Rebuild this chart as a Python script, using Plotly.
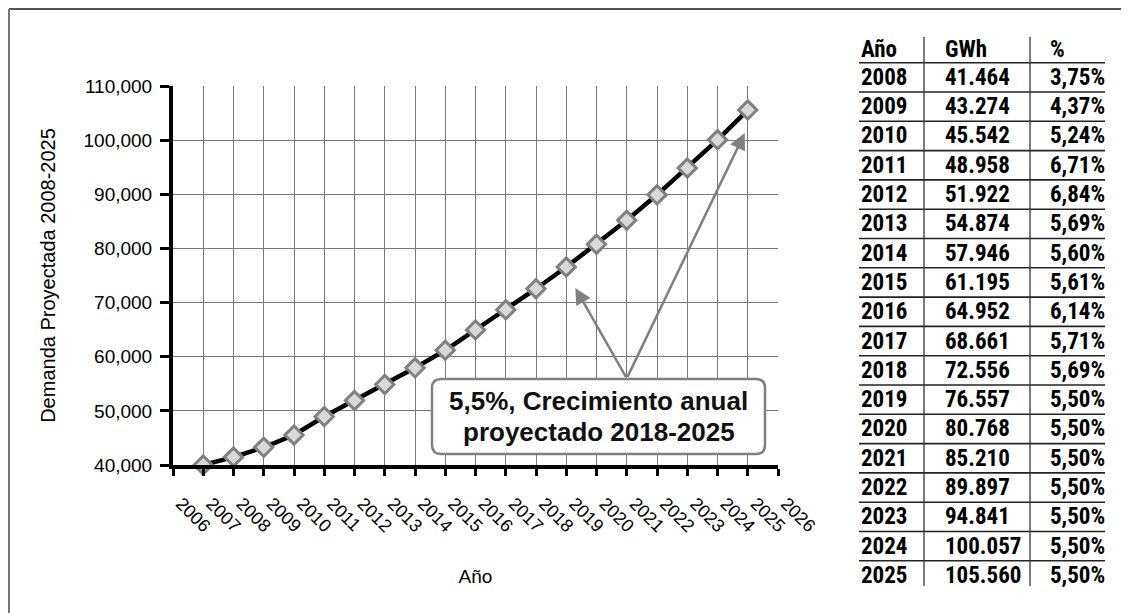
import plotly.graph_objects as go

# ---------------- data ----------------
years = [2007, 2008, 2009, 2010, 2011, 2012, 2013, 2014, 2015, 2016,
         2017, 2018, 2019, 2020, 2021, 2022, 2023, 2024, 2025]
demand = [40000, 41464, 43274, 45542, 48958, 51922, 54874, 57946, 61195, 64952,
          68661, 72556, 76557, 80768, 85210, 89897, 94841, 100057, 105560]

table_years = [2008, 2009, 2010, 2011, 2012, 2013, 2014, 2015, 2016,
               2017, 2018, 2019, 2020, 2021, 2022, 2023, 2024, 2025]
table_gwh = [41464, 43274, 45542, 48958, 51922, 54874, 57946, 61195, 64952,
             68661, 72556, 76557, 80768, 85210, 89897, 94841, 100057, 105560]
table_pct = [3.75, 4.37, 5.24, 6.71, 6.84, 5.69, 5.60, 5.61, 6.14,
             5.71, 5.69, 5.50, 5.50, 5.50, 5.50, 5.50, 5.50, 5.50]
table_header = ["Año", "GWh", "%"]

x_ticks = list(range(2006, 2027))
y_ticks = [40000, 50000, 60000, 70000, 80000, 90000, 100000, 110000]

note_lines = ["5,5%, Crecimiento anual", "proyectado 2018-2025"]
note_tail = (2021.0, 56000)
note_heads = [(2019.3, 72700), (2024.9, 101300)]

# ---------------- layout geometry ----------------
# page body has an 8px margin; screen coordinates are converted to figure ones
OFF = 8
W, H = 1129 - OFF, 613 - OFF
ML, MR, MT, MB = 173 - OFF, 351, 86 - OFF, 148
PW = W - ML - MR
PH = H - MT - MB


def px(x):
    """screen x -> paper"""
    return (x - OFF - ML) / PW


def py(y):
    """screen y -> paper"""
    return (H - MB - (y - OFF)) / PH


fig = go.Figure()
fig.add_trace(go.Scatter(
    x=years, y=demand, mode="lines+markers",
    line=dict(color="black", width=4.5),
    marker=dict(symbol="diamond", size=14, color="#d9d9d9",
                line=dict(color="#808080", width=3)),
    showlegend=False, cliponaxis=False,
))

shapes = []
annotations = []

# rounded box for the note
bx0, bx1, by0, by1, r = 432, 765, 379, 454, 9
rx, ry = r / PW, r / PH
X0, X1, Y0, Y1 = px(bx0), px(bx1), py(by1), py(by0)
path = (f"M {X0+rx},{Y1} L {X1-rx},{Y1} Q {X1},{Y1} {X1},{Y1-ry} "
        f"L {X1},{Y0+ry} Q {X1},{Y0} {X1-rx},{Y0} L {X0+rx},{Y0} "
        f"Q {X0},{Y0} {X0},{Y0+ry} L {X0},{Y1-ry} Q {X0},{Y1} {X0+rx},{Y1} Z")
shapes.append(dict(type="path", xref="paper", yref="paper", path=path,
                   fillcolor="white", line=dict(color="#808080", width=2.5),
                   layer="above"))
for ly, txt in zip((400.5, 431.5), note_lines):
    annotations.append(dict(xref="paper", yref="paper", x=px((bx0 + bx1) / 2),
                            y=py(ly), xanchor="center", yanchor="middle",
                            text=f"<b>{txt}</b>", borderpad=0,
                            showarrow=False, align="center",
                            font=dict(family="Arial, Liberation Sans, sans-serif",
                                      size=26, color="#111111")))
for hx, hy in note_heads:
    annotations.append(dict(x=hx, y=hy, xref="x", yref="y",
                            ax=note_tail[0], ay=note_tail[1], axref="x", ayref="y",
                            text="", showarrow=True, arrowhead=2, arrowsize=1.3,
                            arrowwidth=2.5, arrowcolor="#808080", standoff=0))

# outer frame (top and left)
shapes.append(dict(type="line", xref="paper", yref="paper",
                   x0=px(OFF + 1), x1=px(1129), y0=py(OFF + 1), y1=py(OFF + 1),
                   line=dict(color="#555555", width=2)))
shapes.append(dict(type="line", xref="paper", yref="paper",
                   x0=px(OFF + 1), x1=px(OFF + 1), y0=py(OFF + 1), y1=py(613),
                   line=dict(color="#777777", width=2)))

# table
tfont = dict(family="Roboto Condensed, Liberation Sans Narrow, Noto Sans",
             size=23, color="black", weight="bold")
col_x = [859, 943, 1048]
t_left, t_right = 859, 1105
line0, row_h = 62.7, 29.3
hdr_y = 49
for cx, txt in zip(col_x, table_header):
    annotations.append(dict(xref="paper", yref="paper", x=px(cx), y=py(hdr_y),
                            text=txt, showarrow=False,
                            xanchor="left", yanchor="middle", font=tfont))
for i, (yr, g, p) in enumerate(zip(table_years, table_gwh, table_pct)):
    cy = line0 + row_h * i + row_h / 2
    cells = [str(yr), f"{g:,}".replace(",", "."), f"{p:.2f}".replace(".", ",") + "%"]
    for cx, txt in zip(col_x, cells):
        annotations.append(dict(xref="paper", yref="paper", x=px(cx), y=py(cy),
                                text=txt, showarrow=False,
                                xanchor="left", yanchor="middle", font=tfont))
for k in range(len(table_years)):
    yl = line0 + row_h * k
    shapes.append(dict(type="line", xref="paper", yref="paper",
                       x0=px(t_left), x1=px(t_right), y0=py(yl), y1=py(yl),
                       line=dict(color="#222222", width=1.6)))
for vx in (924, 1030):
    shapes.append(dict(type="line", xref="paper", yref="paper",
                       x0=px(vx), x1=px(vx), y0=py(37), y1=py(586),
                       line=dict(color="#333333", width=1.3)))

axis_font = dict(family="Arial, Liberation Sans, sans-serif", size=19, color="black")
fig.update_layout(
    width=W, height=H,
    margin=dict(l=ML, r=MR, t=MT, b=MB),
    paper_bgcolor="white", plot_bgcolor="white",
    shapes=shapes, annotations=annotations,
    xaxis=dict(range=[2006, 2026], tickvals=x_ticks, ticktext=[str(t) for t in x_ticks],
               tickangle=45, tickfont=dict(family="Arial, Liberation Sans, sans-serif", size=18, color="black"),
               ticklabelstandoff=10, ticklabelshift=8,
               showgrid=True, gridcolor="#7a7a7a", gridwidth=1,
               showline=True, linecolor="black", linewidth=4,
               ticks="outside", ticklen=7, tickwidth=3, tickcolor="black",
               zeroline=False,
               title=dict(text="Año", font=dict(family="Arial, Liberation Sans, sans-serif", size=19, color="black"),
                          standoff=36)),
    yaxis=dict(range=[40000, 110000], tickvals=y_ticks, tickformat=",",
               tickfont=axis_font, ticklabelstandoff=4,
               showgrid=True, gridcolor="#7a7a7a", gridwidth=1,
               showline=True, linecolor="black", linewidth=4,
               ticks="outside", ticklen=9, tickwidth=3, tickcolor="black",
               zeroline=False,
               title=dict(text="Demanda Proyectada 2008-2025",
                          font=dict(family="Arial, Liberation Sans, sans-serif", size=20, color="black"),
                          standoff=24)),
)

fig.write_html("out.html")
